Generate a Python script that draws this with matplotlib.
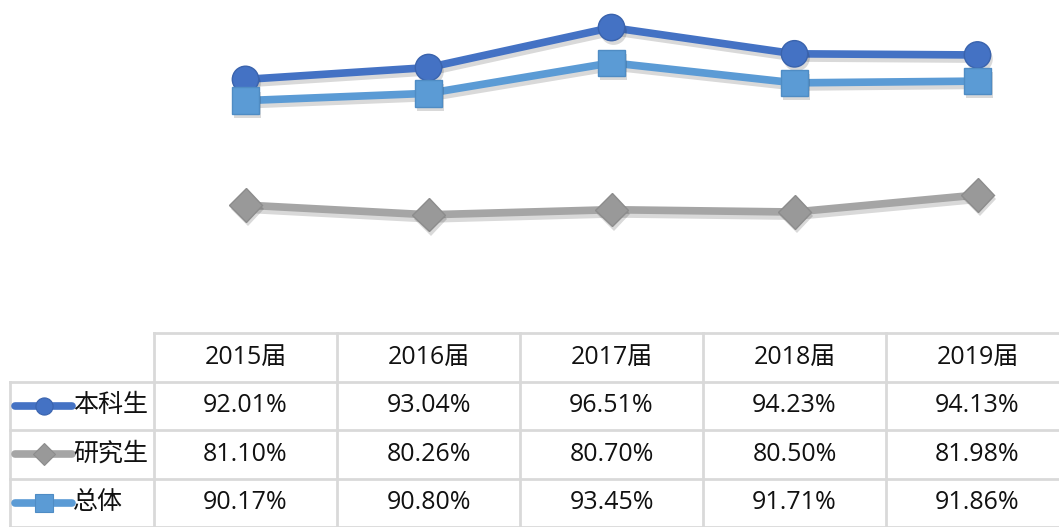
import matplotlib.pyplot as plt
import matplotlib.patheffects as pe
from matplotlib.lines import Line2D

plt.rcParams['font.family'] = ['Open Sans', 'Noto Sans CJK SC', 'DejaVu Sans']

years = ["2015届", "2016届", "2017届", "2018届", "2019届"]
undergrad = [92.01, 93.04, 96.51, 94.23, 94.13]
graduate = [81.10, 80.26, 80.70, 80.50, 81.98]
overall = [90.17, 90.80, 93.45, 91.71, 91.86]

series = [
    ("本科生", undergrad, "#4472c4", "#4472c4", "#3a63ad", "o", 19),
    ("研究生", graduate, "#a5a5a5", "#999999", "#8c8c8c", "D", 17),
    ("总体", overall, "#5b9bd5", "#5b9bd5", "#4f8cc4", "s", 19),
]

W, H = 1059, 527
COL_W = 183          # table column width, px
TOP = 333            # table top, px from figure top
fig = plt.figure(figsize=(W / 100, H / 100), dpi=100)

# chart area above the table, sharing the table's columns
n = len(years)
ax = fig.add_axes([154 / W, (H - TOP) / H, n * COL_W / W, TOP / H])
x = range(n)
line_shadow = [pe.SimpleLineShadow(offset=(1.5, -3), shadow_color="k", alpha=0.15),
               pe.Normal()]
mark_shadow = [pe.SimplePatchShadow(offset=(1.5, -3), shadow_rgbFace="k", alpha=0.15),
               pe.Normal()]
for name, vals, lc, mc, ec, mk, ms in series:
    ax.plot(x, vals, color=lc, lw=5.5, solid_capstyle="round",
            path_effects=line_shadow, zorder=2)
    ax.plot(x, vals, ls="none", marker=mk, ms=ms, mfc=mc, mec=ec, mew=1,
            path_effects=mark_shadow, zorder=3)
ax.set_xlim(-0.5, n - 0.5)
ax.set_ylim(70, 98.9)
ax.axis("off")

# data table
left = -0.5 - 154 / COL_W
right = left + W / COL_W
ta = fig.add_axes([0, 0, 1, (H - TOP) / H])
ta.set_xlim(left, right)
nrow = len(series) + 1
ta.set_ylim(nrow, 0)
ta.axis("off")
lab_left = left + 10 / COL_W
grid = dict(color="#d9d9d9", lw=2, clip_on=False)
for i in range(n):
    ta.plot([i - 0.5, i - 0.5], [0, nrow], **grid)
ta.plot([lab_left, lab_left], [1, nrow], **grid)
ta.plot([-0.5, right], [0, 0], **grid)
for r in range(1, nrow + 1):
    ta.plot([lab_left, right], [r, r], **grid)

txt = dict(ha="center", va="center", fontsize=18, color="#111111")
for i, yr in enumerate(years):
    ta.text(i, 0.5, yr, **txt)

for r, (name, vals, lc, mc, ec, mk, ms) in enumerate(series, start=1):
    x0 = left + 15 / COL_W
    x1 = left + 72 / COL_W
    ta.add_line(Line2D([x0, x1], [r + 0.5, r + 0.5], color=lc, lw=5.5,
                       solid_capstyle="round"))
    ta.plot([(x0 + x1) / 2], [r + 0.5], marker=mk, ms=ms * 0.65, mfc=mc,
            mec=ec, mew=0.8)
    ta.text(x1 + 1 / COL_W, r + 0.5, name, ha="left", va="center",
            fontsize=18, color="#111111")
    for i, v in enumerate(vals):
        ta.text(i, r + 0.5, f"{v:.2f}%", **txt)

fig.savefig("out.png", dpi=100)
